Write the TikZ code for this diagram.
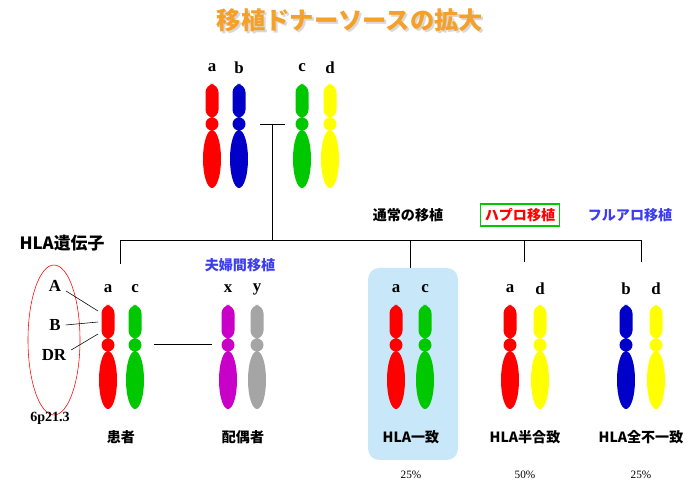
\documentclass[tikz,border=0pt]{standalone}
\usepackage{fontspec}
\setmainfont{Liberation Serif}
\newfontfamily\jp{Noto Sans CJK JP}
\usetikzlibrary{positioning}
\definecolor{chrred}{RGB}{255,0,0}
\definecolor{chrblue}{RGB}{0,0,200}
\definecolor{chrgreen}{RGB}{0,200,0}
\definecolor{chryellow}{RGB}{255,255,0}
\definecolor{chrpurple}{RGB}{200,0,200}
\definecolor{chrgray}{RGB}{165,165,165}
\definecolor{titleorange}{RGB}{245,160,40}
\definecolor{boxblue}{RGB}{200,232,250}
\definecolor{labelblue}{RGB}{60,60,240}
% chromosome: \chrom{x}{top y}{colour}{label}
\newcommand{\chrom}[4]{%
  \fill[#3,rounded corners=6pt] (#1-6.5,-#2) rectangle (#1+6.5,-#2-34);
  \fill[#3] (#1,-#2-40) circle (6.5);
  \fill[#3] (#1,-#2-75) ellipse (9 and 29);
  \node[font=\bfseries\large] at (#1,-#2+16) {#4};}
\tikzset{
  jplabel/.style={font=\jp\bfseries},
  pct/.style={font=\footnotesize},
  branch/.style={thin}
}
\begin{document}
\begin{tikzpicture}[x=0.025cm,y=0.025cm]
        \useasboundingbox (0,0) rectangle (700,-492);
        % Title
        \node[font=\jp\bfseries\LARGE, text=black!30, opacity=0.5] (shadow) at (352,-22) {移植ドナーソースの拡大};
        \node[font=\jp\bfseries\LARGE, text=titleorange] (title) at (350,-20) {移植ドナーソースの拡大};

        % Parents
        \chrom{212}{84}{chrred}{a}
        \chrom{239}{84}{chrblue}{b}
        \chrom{302}{84}{chrgreen}{c}
        \chrom{330}{84}{chryellow}{d}

        % Tree
        \coordinate (pl) at (260,-124);
        \coordinate (pr) at (285,-124);
        \coordinate (top) at (272,-124);
        \coordinate (mid) at (272,-240);
        \draw[branch] (pl) -- (pr);
        \draw[branch] (top) -- (mid);
        \draw[branch] (120,-240) -- (641,-240);
        \foreach \xx/\yy in {120/264, 410/268, 524/262, 641/262}
          \draw[branch] (\xx,-240) -- (\xx,-\yy);

        % Transplant types
        \node[jplabel] (normal) at (408,-215) {通常の移植};
        \node[jplabel, text=red, draw=chrgreen, line width=1.2pt, inner sep=3pt] (haplo) at (520,-215) {ハプロ移植};
        \node[jplabel, text=labelblue] (fullallo) at (630,-215) {フルアロ移植};
        \node[font=\jp\bfseries\large] (hla) at (62,-243) {HLA遺伝子};
        \node[jplabel, text=labelblue] (couple) at (240,-265) {夫婦間移植};

        % Match box
        \fill[boxblue, rounded corners=8pt] (368,-268) rectangle (458,-460);

        % Children
        \chrom{108}{305}{chrred}{a}
        \chrom{135}{305}{chrgreen}{c}
        \chrom{228}{305}{chrpurple}{x}
        \chrom{257}{305}{chrgray}{y}
        \chrom{396}{305}{chrred}{a}
        \chrom{425}{305}{chrgreen}{c}
        \chrom{510}{305}{chrred}{a}
        \chrom{540}{305}{chryellow}{d}
        \chrom{626}{305}{chrblue}{b}
        \chrom{656}{305}{chryellow}{d}
        \draw[branch] (154,-344) -- (212,-344);

        % HLA loci
        \draw[red] (54,-340) ellipse (26 and 75);
        \node[font=\bfseries\large] (locA) at (55,-286) {A};
        \node[font=\bfseries\large] (locB) at (55,-325) {B};
        \node[font=\bfseries\large] (locDR) at (54,-355) {DR};
        \draw (locA.east) ++(0,-5) -- (98,-311);
        \draw (locB.east) -- (98,-322);
        \draw (locDR.east) ++(0,5) -- (98,-334);
        \node[font=\bfseries] (band) at (50,-418) {6p21.3};

        % Names
        \node[jplabel] (patient) at (121,-437) {患者};
        \node[jplabel] (spouse) at (243,-437) {配偶者};
        \node[jplabel] (match) at (411,-437) {HLA一致};
        \node[jplabel] (half) at (525,-437) {HLA半合致};
        \node[jplabel] (mis) at (641,-437) {HLA全不一致};
        \node[pct] (p1) at (411,-475) {25\%};
        \node[pct] (p2) at (525,-475) {50\%};
        \node[pct] (p3) at (641,-475) {25\%};
\end{tikzpicture}
\end{document}
